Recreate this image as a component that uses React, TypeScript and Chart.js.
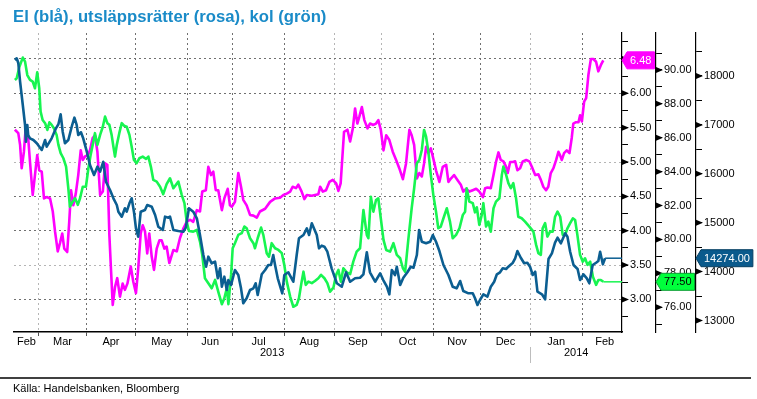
import React, { useEffect, useRef } from 'react';
import { Chart, registerables } from 'chart.js';

Chart.register(...registerables);

const FONT = "'Liberation Sans', Arial, sans-serif";
Chart.defaults.font.family = FONT;

const TITLE = 'El (blå), utsläppsrätter (rosa), kol (grön)';
const SOURCE = 'Källa: Handelsbanken, Bloomberg';

// x = business-day index counted from 14 Feb 2013
const X_MAX = 269.7;
const monthBoundaries = [11, 32, 54, 77, 97, 120, 142, 163, 186, 207, 229, 252];
const lightBoundaries = [11, 142, 163, 229];
const monthLabels = ['Feb', 'Mar', 'Apr', 'May', 'Jun', 'Jul', 'Aug', 'Sep', 'Oct', 'Nov', 'Dec', 'Jan', 'Feb'];
const monthLabelPos = [5.5, 21.5, 43, 65.5, 87, 108.5, 131, 152.5, 174.5, 196.5, 218, 240.5, 262];
const yearLabels = ['2013', '2014'];
const yearLabelPos = [114.5, 249.4];
const yearBoundary = 229;

// axis ranges and ticks
const PINK_MIN = 2.526, PINK_MAX = 6.878;
const GREEN_MIN = 74.54, GREEN_MAX = 92.18;
const BLUE_MIN = 12765, BLUE_MAX = 18879;
const pinkTicks = [2.75, 3, 3.25, 3.5, 3.75, 4, 4.25, 4.5, 4.75, 5, 5.25, 5.5, 5.75, 6, 6.25, 6.5, 6.75];
const greenTicks = [75, 76, 77, 78, 79, 80, 81, 82, 83, 84, 85, 86, 87, 88, 89, 90, 91];
const blueTicks = [13000, 13500, 14000, 14500, 15000, 15500, 16000, 16500, 17000, 17500, 18000, 18500];

// Utsläppsrätter (rosa)
const pinkX = [
  0.4, 1.9, 2.7, 3.4, 4.4, 5.3, 6.3, 7.1, 8.3, 9.3,
  10.3, 11.2, 12.3, 13.3, 14.5, 16.0, 17.2, 18.2, 19.4, 20.4,
  21.4, 22.3, 23.6, 24.5, 25.3, 26.3, 27.4, 28.5, 29.6, 30.5,
  31.5, 32.7, 33.7, 34.9, 35.9, 37.0, 38.2, 39.4, 40.4, 41.4,
  42.3, 43.0, 43.8, 44.8, 45.8, 47.0, 48.2, 49.2, 50.3, 51.8,
  52.9, 54.1, 55.1, 56.2, 57.1, 58.1, 59.1, 60.0, 61.1, 62.1,
  63.3, 64.5, 65.5, 66.7, 67.7, 68.9, 70.7, 72.2, 73.6, 75.1,
  76.6, 78.1, 79.5, 81.1, 82.5, 83.5, 85.1, 86.2, 87.4, 88.4,
  89.5, 90.6, 92.2, 93.3, 94.8, 95.8, 96.6, 98.0, 99.5, 100.7,
  101.7, 103.2, 104.7, 106.2, 107.7, 109.1, 111.4, 113.6, 115.8, 118.0,
  119.5, 121.0, 122.5, 123.6, 125.1, 126.1, 127.6, 128.8, 129.9, 132.1,
  133.5, 135.0, 135.8, 137.0, 138.4, 139.9, 141.4, 142.9, 143.9, 144.9,
  146.4, 147.9, 149.1, 150.3, 151.3, 152.3, 153.2, 154.3, 155.4, 156.8,
  157.9, 159.4, 160.6, 161.6, 162.7, 163.9, 165.1, 166.5, 168.0, 169.5,
  170.9, 172.5, 173.9, 175.4, 176.4, 177.5, 178.7, 179.8, 180.9, 181.9,
  182.8, 183.8, 184.9, 186.0, 187.2, 188.7, 190.2, 191.7, 192.7, 193.8,
  195.2, 196.7, 198.2, 199.3, 200.5, 202.0, 203.5, 205.0, 206.4, 208.0,
  209.0, 210.0, 211.5, 212.7, 213.8, 214.9, 215.9, 217.1, 218.3, 219.0,
  220.1, 221.3, 222.3, 223.3, 224.5, 225.7, 227.2, 228.6, 229.7, 231.2,
  232.6, 233.7, 234.8, 236.0, 237.0, 238.1, 239.3, 240.5, 241.5, 242.2,
  243.0, 244.0, 245.2, 246.4, 247.4, 248.1, 249.3, 250.4, 251.1, 251.9,
  252.9, 253.8, 254.8, 255.9, 257.0, 258.2, 259.2, 260.3, 261.4,
];
const pinkV = [
  5.47, 5.42, 5.25, 4.91, 5.15, 5.54, 5.35, 5.00, 4.52, 4.81,
  5.10, 4.88, 4.86, 4.47, 4.49, 4.47, 4.28, 3.99, 3.70, 3.82,
  3.96, 3.74, 3.69, 4.13, 4.59, 4.37, 4.54, 4.81, 5.17, 5.03,
  5.08, 5.10, 5.17, 5.35, 5.39, 5.15, 4.52, 4.57, 4.98, 4.96,
  3.94, 3.45, 2.92, 3.18, 3.31, 3.04, 3.23, 3.14, 3.23, 3.48,
  3.26, 3.09, 3.45, 3.96, 4.08, 3.99, 3.67, 3.96, 3.62, 3.43,
  3.74, 3.86, 3.86, 3.74, 3.77, 3.53, 3.72, 3.70, 3.89, 4.03,
  4.13, 4.16, 4.13, 4.30, 4.28, 4.57, 4.59, 4.93, 4.81, 4.86,
  4.59, 4.59, 4.30, 4.47, 4.61, 4.37, 4.35, 4.42, 4.84, 4.64,
  4.45, 4.37, 4.23, 4.22, 4.19, 4.28, 4.32, 4.42, 4.47, 4.48,
  4.52, 4.54, 4.57, 4.64, 4.62, 4.67, 4.57, 4.46, 4.52, 4.51,
  4.52, 4.53, 4.64, 4.57, 4.59, 4.71, 4.74, 4.69, 4.58, 4.69,
  5.44, 5.47, 5.30, 5.49, 5.78, 5.56, 5.66, 5.80, 5.61, 5.49,
  5.56, 5.54, 5.56, 5.61, 5.47, 5.17, 5.39, 5.32, 5.15, 5.03,
  4.91, 4.75, 4.98, 5.47, 5.39, 5.25, 4.76, 4.84, 4.79, 4.98,
  5.22, 5.13, 5.20, 5.05, 4.88, 4.71, 4.93, 4.96, 4.71, 4.76,
  4.81, 4.74, 4.67, 4.57, 4.61, 4.57, 4.59, 4.61, 4.57, 4.49,
  4.62, 4.63, 4.62, 4.81, 5.00, 5.14, 5.03, 5.01, 4.93, 4.84,
  5.00, 5.00, 5.01, 4.88, 4.91, 5.01, 5.03, 5.01, 4.93, 4.81,
  4.82, 4.74, 4.64, 4.59, 4.64, 4.84, 4.91, 5.03, 5.15, 5.10,
  5.03, 5.13, 5.17, 5.13, 5.35, 5.56, 5.58, 5.58, 5.68, 5.59,
  5.88, 5.93, 6.27, 6.50, 6.50, 6.46, 6.32, 6.41, 6.48,
];

// Kol (grön)
const greenX = [
  0.4, 1.2, 2.4, 3.9, 4.9, 5.9, 7.1, 8.3, 9.3, 10.3,
  11.2, 11.8, 12.7, 13.8, 14.8, 15.7, 16.7, 17.7, 18.9, 19.7,
  20.7, 21.9, 23.1, 24.1, 24.8, 26.0, 27.1, 28.3, 29.3, 30.5,
  31.9, 33.0, 34.0, 35.2, 35.9, 37.0, 38.2, 39.4, 40.4, 41.4,
  42.3, 43.3, 44.1, 44.8, 45.6, 46.7, 47.8, 48.8, 50.0, 51.2,
  52.2, 53.2, 54.4, 55.6, 57.1, 58.6, 59.6, 60.7, 61.8, 63.3,
  64.8, 66.2, 67.7, 69.2, 70.7, 72.9, 74.4, 75.6, 76.6, 77.6,
  79.5, 81.1, 82.5, 83.5, 84.7, 86.2, 87.7, 89.2, 90.6, 92.2,
  93.3, 94.4, 95.1, 96.3, 97.0, 98.0, 99.5, 101.0, 102.2, 103.2,
  104.7, 106.2, 106.9, 108.1, 109.6, 110.6, 112.1, 113.1, 114.3, 115.8,
  117.3, 118.8, 119.9, 121.0, 122.5, 123.9, 125.4, 126.4, 127.6, 128.4,
  129.4, 130.6, 132.1, 133.5, 135.0, 136.2, 137.7, 139.0, 140.2, 141.7,
  142.9, 143.9, 145.0, 146.1, 147.6, 149.1, 150.5, 152.0, 153.5, 155.0,
  156.5, 157.2, 158.3, 159.4, 160.6, 161.6, 162.7, 163.9, 165.1, 166.8,
  168.3, 169.8, 171.3, 172.5, 173.5, 174.9, 176.4, 177.5, 178.7, 179.8,
  180.9, 181.9, 182.8, 183.8, 184.9, 186.0, 187.2, 188.2, 189.3, 190.5,
  192.0, 193.4, 194.6, 196.1, 197.6, 199.1, 200.1, 200.8, 202.0, 203.5,
  204.5, 205.3, 206.4, 207.5, 208.2, 209.4, 210.4, 211.5, 212.7, 213.8,
  215.3, 216.4, 217.1, 218.3, 219.3, 220.4, 221.5, 222.7, 223.7, 225.2,
  226.7, 228.6, 230.4, 231.6, 232.6, 233.7, 234.5, 235.6, 236.6, 237.8,
  239.0, 240.0, 241.1, 242.3, 243.4, 244.5, 245.5, 246.7, 247.9, 248.9,
  249.9, 251.1, 252.3, 253.3, 254.4, 255.6, 256.8, 258.2, 259.2, 260.3, 261.4,
];
const greenV = [
  89.41, 89.51, 90.19, 90.73, 90.49, 89.70, 89.41, 89.31, 88.92, 89.86,
  88.92, 87.54, 87.05, 86.86, 86.46, 86.91, 86.76, 86.56, 86.17, 85.58,
  85.09, 84.79, 84.30, 83.02, 81.93, 82.23, 82.43, 82.04, 82.43, 83.11,
  83.11, 84.20, 84.99, 85.77, 86.27, 85.58, 86.17, 86.65, 87.25, 86.86,
  86.76, 86.17, 85.47, 84.89, 85.58, 86.27, 86.86, 86.71, 86.65, 86.17,
  85.47, 84.69, 84.50, 84.79, 84.89, 84.75, 84.89, 84.30, 83.51, 83.41,
  83.11, 82.67, 83.26, 83.61, 83.02, 83.41, 82.63, 82.14, 81.05, 80.50,
  80.46, 80.56, 79.87, 79.09, 77.71, 77.42, 77.12, 77.61, 76.92, 76.18,
  76.53, 77.12, 76.18, 77.91, 79.48, 79.78, 80.27, 80.37, 80.76, 80.66,
  80.07, 79.78, 79.48, 80.07, 80.70, 80.27, 79.19, 78.98, 79.78, 79.48,
  79.38, 79.19, 78.50, 77.51, 76.63, 76.03, 76.14, 76.53, 77.51, 78.10,
  77.32, 77.51, 77.42, 77.55, 77.71, 77.91, 77.71, 77.42, 76.92, 77.16,
  77.91, 78.20, 77.51, 78.30, 78.06, 77.95, 78.69, 79.28, 79.48, 81.74,
  80.27, 80.07, 82.52, 81.64, 82.33, 82.43, 81.25, 79.97, 79.38, 79.28,
  79.78, 79.09, 78.89, 78.30, 78.10, 79.97, 81.84, 83.02, 84.50, 84.69,
  85.28, 86.46, 86.06, 85.18, 83.81, 82.63, 81.64, 80.66, 80.76, 81.25,
  81.84, 81.05, 80.07, 80.27, 80.66, 81.45, 81.64, 83.02, 82.23, 82.14,
  81.60, 81.90, 80.86, 81.45, 82.14, 80.76, 81.05, 80.46, 81.84, 82.23,
  82.43, 83.81, 84.30, 83.81, 83.32, 83.02, 83.32, 82.43, 81.34, 81.25,
  81.05, 80.76, 80.46, 79.68, 79.19, 79.09, 80.66, 80.96, 80.17, 80.46,
  80.46, 81.34, 81.64, 81.34, 80.27, 80.27, 80.66, 80.96, 81.25, 81.15,
  80.27, 79.09, 78.69, 78.89, 78.50, 78.69, 77.80, 77.32, 77.61, 77.61, 77.50,
];

// El (blå)
const blueX = [
  0.4, 1.2, 1.9, 2.7, 3.9, 4.9, 5.3, 5.9, 6.3, 7.1,
  8.6, 10.1, 12.3, 13.8, 14.5, 16.7, 18.6, 19.7, 20.7, 21.6,
  22.6, 24.1, 25.6, 26.8, 27.8, 28.5, 29.7, 30.7, 32.3, 33.7,
  35.5, 37.0, 38.2, 39.6, 40.8, 42.6, 44.1, 45.6, 46.3, 47.8,
  49.2, 50.0, 51.2, 52.2, 53.2, 54.1, 55.1, 56.2, 58.1, 59.1,
  61.1, 62.6, 64.0, 66.0, 67.0, 68.5, 69.2, 70.7, 72.9, 75.1,
  76.2, 77.6, 79.5, 81.1, 82.5, 84.0, 85.2, 86.2, 87.7, 89.2,
  90.4, 91.4, 92.2, 93.3, 94.4, 95.1, 96.3, 98.0, 99.5, 100.7,
  101.7, 103.2, 104.7, 106.2, 107.2, 108.1, 109.9, 111.4, 112.8, 114.0,
  115.0, 115.8, 117.0, 119.0, 119.9, 121.7, 123.9, 125.4, 126.4, 128.4,
  129.9, 130.9, 132.1, 134.3, 135.3, 136.5, 137.7, 139.0, 140.9, 143.2,
  145.4, 147.3, 149.1, 151.3, 153.5, 155.0, 156.5, 157.9, 160.2, 162.4,
  163.8, 165.4, 166.5, 167.6, 169.0, 169.8, 171.3, 172.7, 174.5, 176.0,
  177.2, 178.7, 179.7, 180.9, 182.8, 184.6, 185.8, 187.2, 188.7, 190.5,
  192.7, 194.6, 196.4, 197.9, 199.3, 201.6, 203.5, 204.5, 205.6, 206.7,
  208.2, 210.0, 211.5, 213.0, 214.2, 215.6, 216.8, 218.3, 219.3, 221.3,
  222.3, 223.3, 224.8, 226.3, 227.7, 228.9, 230.1, 231.2, 232.2, 234.2,
  235.6, 237.1, 238.6, 240.0, 241.1, 242.6, 244.5, 245.5, 246.7, 248.2,
  250.0, 251.1, 252.6, 254.1, 255.2, 256.7, 258.2, 259.2, 260.0, 261.2, 262.2,
];
const blueV = [
  18327, 18362, 18266, 17883, 17407, 16998, 16656, 16998, 16793, 16726,
  16691, 16624, 16487, 16691, 16554, 16726, 16930, 17012, 17217, 16861,
  16624, 16691, 16963, 17147, 16998, 16793, 16849, 16726, 16452, 16180,
  15975, 16145, 16043, 16247, 15838, 15669, 15499, 15362, 15225, 15123,
  15294, 15225, 15397, 15499, 15225, 14885, 14714, 15225, 15260, 15362,
  15327, 15157, 14918, 14851, 15123, 15102, 15123, 14851, 14830, 14816,
  14898, 15294, 15225, 15090, 14748, 14339, 14100, 14305, 14170, 14202,
  13863, 14067, 13691, 13896, 13624, 13828, 13726, 14033, 13930, 13658,
  13352, 13454, 13624, 13658, 13761, 13521, 13945, 14033, 14135, 14135,
  14339, 14135, 13863, 13556, 13930, 13986, 13793, 14339, 14681, 14748,
  14885, 14748, 14988, 14748, 14476, 14530, 14509, 14407, 14067, 13761,
  13691, 13986, 13793, 13863, 13875, 13945, 14395, 13986, 13793, 13965,
  13828, 13691, 13536, 14033, 13930, 14100, 13726, 13875, 13986, 14100,
  14080, 14339, 14851, 14611, 14579, 14611, 14748, 14611, 14421, 14135,
  13930, 13691, 13658, 13808, 13603, 13556, 13556, 13454, 13317, 13419,
  13536, 13487, 13691, 13793, 13945, 13986, 14067, 14053, 14100, 14182,
  14272, 14421, 14284, 14170, 14182, 14100, 13930, 13998, 13589, 13536,
  13433, 14258, 14374, 14591, 14693, 14579, 14783, 14714, 14407, 14135,
  14053, 13828, 13945, 13863, 13761, 14135, 14182, 14217, 14407, 14149, 14274,
];

const PINK = '#ff00ff';
const GREEN = '#17f550';
const GREEN_LABEL = '#00ff3c';
const BLUE = '#0b5e91';
const BLUE_LABEL = '#0a5a8c';
const TITLE_COLOR = '#1a8bc8';
const GRID_DARK = '#707070';
const GRID_LIGHT = '#b5b5b5';
const CLEAR = 'rgba(0,0,0,0)';

const near = (a: number, b: number) => Math.abs(a - b) < 1e-6;
const isMult = (v: number, s: number) => near(v / s, Math.round(v / s));
const inList = (list: number[], v: any) => typeof v === 'number' && list.some((w) => near(w, v));
const last = (a: number[]) => a[a.length - 1];
const toPoints = (xs: number[], vs: number[]) => {
  const n = Math.min(xs.length, vs.length);
  const out: { x: number; y: number }[] = [];
  for (let i = 0; i < n; i++) out.push({ x: xs[i], y: vs[i] });
  return out;
};

const xTickValues = [...monthBoundaries, ...monthLabelPos, ...yearLabelPos].sort((a, b) => a - b);

function xLabel(v: number): string | string[] {
  const mi = monthLabelPos.findIndex((p) => near(p, v));
  if (mi >= 0) return monthLabels[mi];
  const yi = yearLabelPos.findIndex((p) => near(p, v));
  if (yi >= 0) return ['', yearLabels[yi]];
  return '';
}

function drawCallout(ctx: CanvasRenderingContext2D, x: number, y: number, text: string, fill: string, stroke: string, color: string) {
  ctx.save();
  ctx.font = `11px ${FONT}`;
  const tw = ctx.measureText(text).width;
  const w = tw + 11;
  const h = 17;
  ctx.beginPath();
  ctx.moveTo(x, y);
  ctx.lineTo(x + 5, y - h / 2);
  ctx.lineTo(x + w, y - h / 2);
  ctx.lineTo(x + w, y + h / 2);
  ctx.lineTo(x + 5, y + h / 2);
  ctx.closePath();
  ctx.fillStyle = fill;
  ctx.fill();
  ctx.lineWidth = 1;
  ctx.strokeStyle = stroke;
  ctx.stroke();
  ctx.fillStyle = color;
  ctx.textAlign = 'center';
  ctx.textBaseline = 'middle';
  ctx.fillText(text, x + 5 + (w - 5) / 2, y + 0.5);
  ctx.restore();
}

const decorPlugin = {
  id: 'decor',
  afterDatasetsDraw(chart: any) {
    const { ctx, chartArea, scales } = chart;
    const xs = scales.x;
    const flat = (xArr: number[], vArr: number[], sc: any, color: string) => {
      const x0 = xs.getPixelForValue(last(xArr));
      const y = sc.getPixelForValue(last(vArr));
      ctx.save();
      ctx.strokeStyle = color;
      ctx.lineWidth = 1.5;
      ctx.beginPath();
      ctx.moveTo(x0, y);
      ctx.lineTo(chartArea.right, y);
      ctx.stroke();
      ctx.restore();
    };
    flat(blueX, blueV, scales.yBlue, BLUE);
    flat(greenX, greenV, scales.yGreen, GREEN);
  },
  afterDraw(chart: any) {
    const { ctx, scales } = chart;
    // arrow markers on major ticks
    const arrows = (sc: any, ticks: number[], step: number) => {
      ctx.save();
      ctx.fillStyle = '#000';
      for (const v of ticks) {
        if (!isMult(v, step)) continue;
        const y = sc.getPixelForValue(v);
        const x = sc.left;
        ctx.beginPath();
        ctx.moveTo(x, y - 3);
        ctx.lineTo(x + 7, y);
        ctx.lineTo(x, y + 3);
        ctx.closePath();
        ctx.fill();
      }
      ctx.restore();
    };
    arrows(scales.yPink, pinkTicks, 0.5);
    arrows(scales.yGreen, greenTicks, 2);
    arrows(scales.yBlue, blueTicks, 1000);

    // last value callouts
    const sp = scales.yPink, sg = scales.yGreen, sb = scales.yBlue;
    drawCallout(ctx, sp.left, sp.getPixelForValue(last(pinkV)), last(pinkV).toFixed(2), PINK, PINK, '#fff');
    drawCallout(ctx, sg.left, sg.getPixelForValue(last(greenV)), last(greenV).toFixed(2), GREEN_LABEL, '#0c9e34', '#000');
    drawCallout(ctx, sb.left, sb.getPixelForValue(last(blueV)), last(blueV).toFixed(2), BLUE_LABEL, '#063f63', '#fff');

    // year separator
    const xs = scales.x;
    const xb = Math.round(xs.getPixelForValue(yearBoundary)) + 0.5;
    ctx.save();
    ctx.strokeStyle = '#bdbdbd';
    ctx.lineWidth = 1;
    ctx.beginPath();
    ctx.moveTo(xb, 347);
    ctx.lineTo(xb, 363);
    ctx.stroke();

    // title
    ctx.fillStyle = TITLE_COLOR;
    ctx.font = `bold 16.7px ${FONT}`;
    ctx.textAlign = 'left';
    ctx.textBaseline = 'alphabetic';
    ctx.fillText(TITLE, 13, 22);

    // footer
    ctx.strokeStyle = '#000';
    ctx.lineWidth = 1.5;
    ctx.beginPath();
    ctx.moveTo(0, 378);
    ctx.lineTo(751, 378);
    ctx.stroke();
    ctx.fillStyle = '#000';
    ctx.font = `11px ${FONT}`;
    ctx.fillText(SOURCE, 13, 392);
    ctx.restore();
  },
};

export default function App() {
  const ref = useRef<HTMLCanvasElement>(null);

  useEffect(() => {
    const canvas = ref.current;
    if (!canvas) return;
    const tickFont = { family: FONT, size: 11 };
    const chart = new Chart(canvas, {
      type: 'line',
      data: {
        datasets: [
          {
            label: 'El',
            data: toPoints(blueX, blueV),
            yAxisID: 'yBlue',
            borderColor: BLUE,
            borderWidth: 2.6,
            pointRadius: 0,
            tension: 0,
            fill: false,
            borderJoinStyle: 'round',
            order: 1,
          },
          {
            label: 'Kol',
            data: toPoints(greenX, greenV),
            yAxisID: 'yGreen',
            borderColor: GREEN,
            borderWidth: 2.6,
            pointRadius: 0,
            tension: 0,
            fill: false,
            borderJoinStyle: 'round',
            order: 2,
          },
          {
            label: 'Utsläppsrätter',
            data: toPoints(pinkX, pinkV),
            yAxisID: 'yPink',
            borderColor: PINK,
            borderWidth: 2.6,
            pointRadius: 0,
            tension: 0,
            fill: false,
            borderJoinStyle: 'round',
            order: 3,
          },
        ],
      },
      options: {
        responsive: false,
        maintainAspectRatio: false,
        devicePixelRatio: 1,
        animation: false,
        events: [],
        layout: { padding: { top: 33, left: 14, right: 11, bottom: 0 } },
        plugins: {
          legend: { display: false },
          tooltip: { enabled: false },
          title: { display: false },
        },
        scales: {
          x: {
            type: 'linear',
            position: 'bottom',
            min: 0,
            max: X_MAX,
            afterBuildTicks: (s: any) => {
              s.ticks = xTickValues.map((v) => ({ value: v }));
            },
            afterFit: (s: any) => {
              s.height = 67;
            },
            grid: {
              drawOnChartArea: true,
              lineWidth: 1,
              tickLength: 4,
              tickBorderDash: [],
              color: (c: any) => {
                const v = c.tick?.value;
                if (!inList(monthBoundaries, v)) return CLEAR;
                return inList(lightBoundaries, v) ? GRID_LIGHT : GRID_DARK;
              },
              tickColor: (c: any) => (inList(monthBoundaries, c.tick?.value) ? '#555' : CLEAR),
            },
            border: { display: true, color: '#000', width: 1.5, dash: [2, 3] },
            ticks: {
              autoSkip: false,
              maxRotation: 0,
              minRotation: 0,
              padding: 0,
              color: '#000',
              font: { ...tickFont, lineHeight: 1.05 },
              callback: (v: any) => xLabel(Number(v)),
            },
          },
          yPink: {
            type: 'linear',
            position: 'right',
            weight: 1,
            min: PINK_MIN,
            max: PINK_MAX,
            afterBuildTicks: (s: any) => {
              s.ticks = pinkTicks.map((v) => ({ value: v }));
            },
            afterFit: (s: any) => {
              s.width = 34;
            },
            grid: {
              drawOnChartArea: true,
              lineWidth: 1,
              tickLength: 6,
              tickBorderDash: [],
              tickColor: '#000',
              color: (c: any) => {
                const v = c.tick?.value;
                if (typeof v !== 'number' || !isMult(v, 0.5)) return CLEAR;
                return near(v, 5) || near(v, 3.5) ? GRID_LIGHT : GRID_DARK;
              },
            },
            border: { display: true, color: '#000', width: 1.2, dash: [2, 3] },
            ticks: {
              autoSkip: false,
              padding: 2,
              color: '#000',
              font: tickFont,
              callback: (v: any) => (isMult(Number(v), 0.5) ? Number(v).toFixed(2) : ''),
            },
          },
          yGreen: {
            type: 'linear',
            position: 'right',
            weight: 2,
            min: GREEN_MIN,
            max: GREEN_MAX,
            afterBuildTicks: (s: any) => {
              s.ticks = greenTicks.map((v) => ({ value: v }));
            },
            afterFit: (s: any) => {
              s.width = 40;
            },
            grid: {
              drawOnChartArea: false,
              tickLength: 6,
              tickBorderDash: [],
              tickColor: '#000',
            },
            border: { display: true, color: '#000', width: 1.2 },
            ticks: {
              autoSkip: false,
              padding: 2,
              color: '#000',
              font: tickFont,
              callback: (v: any) => (isMult(Number(v), 2) ? Number(v).toFixed(2) : ''),
            },
          },
          yBlue: {
            type: 'linear',
            position: 'right',
            weight: 3,
            min: BLUE_MIN,
            max: BLUE_MAX,
            afterBuildTicks: (s: any) => {
              s.ticks = blueTicks.map((v) => ({ value: v }));
            },
            afterFit: (s: any) => {
              s.width = 50;
            },
            grid: {
              drawOnChartArea: false,
              tickLength: 6,
              tickBorderDash: [],
              tickColor: '#000',
            },
            border: { display: true, color: '#000', width: 1.2 },
            ticks: {
              autoSkip: false,
              padding: 2,
              color: '#000',
              font: tickFont,
              callback: (v: any) => (isMult(Number(v), 1000) ? String(v) : ''),
            },
          },
        },
      } as any,
      plugins: [decorPlugin],
    });
    return () => chart.destroy();
  }, []);

  return (
    <div style={{ position: 'fixed', left: 0, top: 0, width: 757, height: 399, background: '#fff' }}>
      <canvas ref={ref} width={757} height={399} style={{ display: 'block', width: 757, height: 399 }} />
    </div>
  );
}
